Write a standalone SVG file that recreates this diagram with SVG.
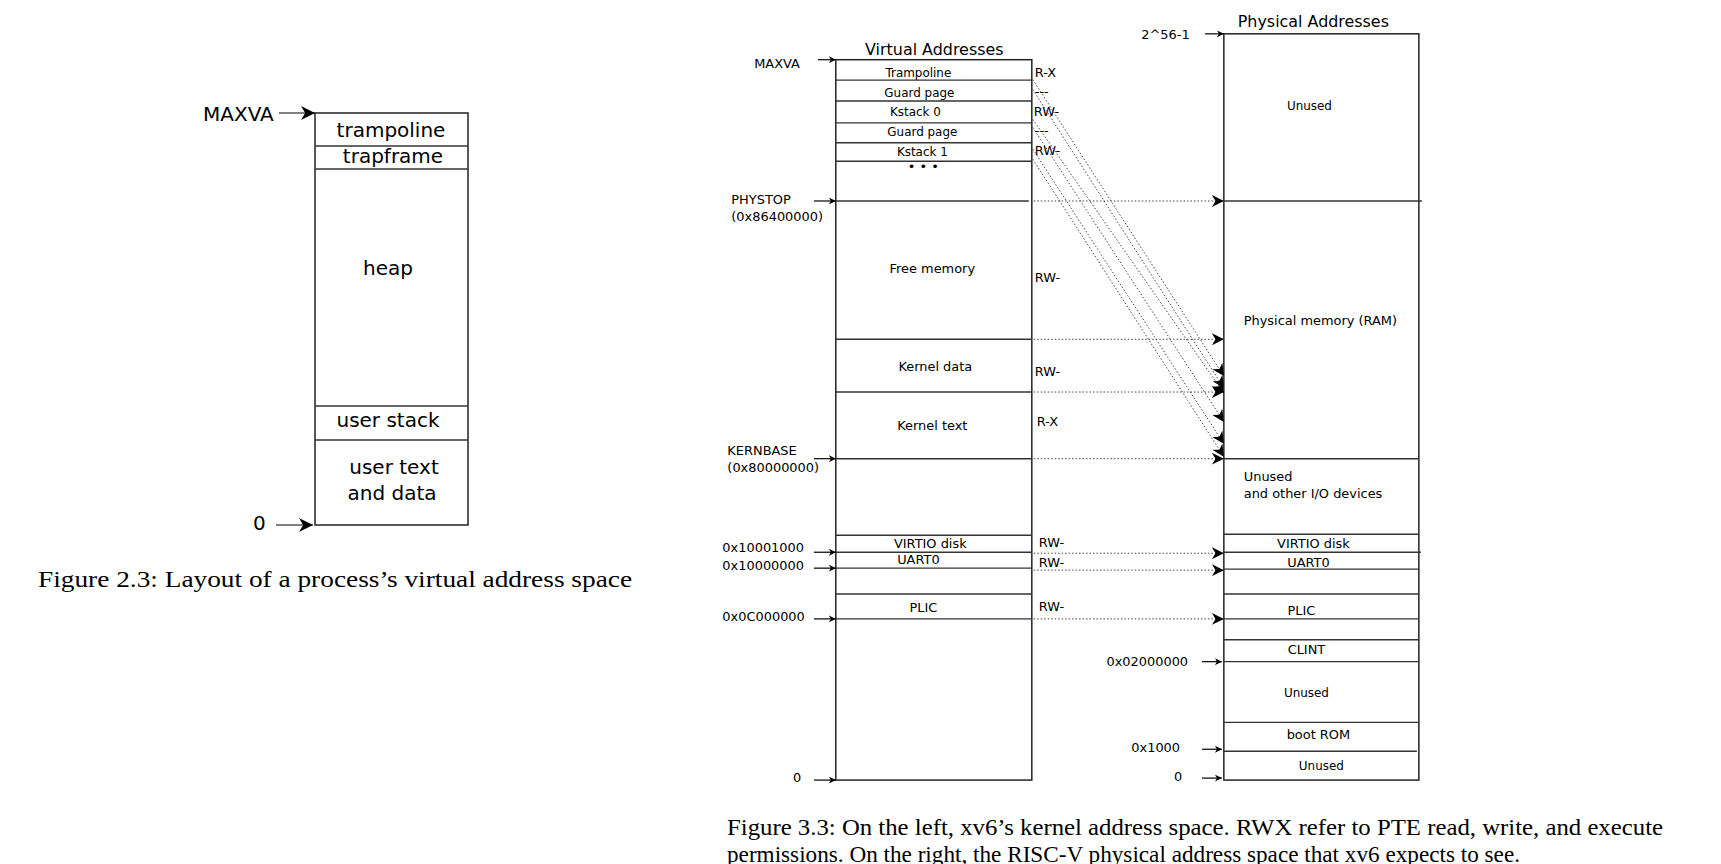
<svg xmlns="http://www.w3.org/2000/svg" width="1721" height="864" viewBox="0 0 1721 864">
<defs>
<marker id="ah" viewBox="0 0 10 10" refX="10" refY="5" markerWidth="7" markerHeight="7" orient="auto" markerUnits="userSpaceOnUse"><path d="M0,0 L10,5 L0,10 L3,5 z" fill="#000"/></marker>
<marker id="ah2" viewBox="0 0 10 10" refX="10" refY="5" markerWidth="12" markerHeight="12" orient="auto" markerUnits="userSpaceOnUse"><path d="M0,0 L10,5 L0,10 L3,5 z" fill="#000"/></marker>
<marker id="ah3" viewBox="0 0 10 10" refX="10" refY="5" markerWidth="14" markerHeight="14" orient="auto" markerUnits="userSpaceOnUse"><path d="M0,0 L10,5 L0,10 L3,5 z" fill="#000"/></marker>
</defs>
<style>
.bx{fill:none;stroke:#222;stroke-width:1.5}
.ln{stroke:#333;stroke-width:1.4}
.t{font-family:"DejaVu Sans",sans-serif;fill:#000}
.s{font-size:12px}
.m{font-size:13px}
.l{font-size:20px}
.h{font-size:16px}
.c{text-anchor:middle}
.cap{font-family:"Liberation Serif",serif;font-size:24px;fill:#000}
.ar{stroke:#000;stroke-width:1.2;fill:none}
.dt{stroke:#444;stroke-width:1;stroke-dasharray:1.5 2;fill:none}
</style>
<rect width="1721" height="864" fill="#fff"/>

<g id="fig23" transform="translate(-2,0)">
<rect class="bx" x="317" y="113" width="153" height="412"/>
<line class="ln" x1="317" y1="146" x2="470" y2="146"/>
<line class="ln" x1="317" y1="169" x2="470" y2="169"/>
<line class="ln" x1="317" y1="406" x2="470" y2="406"/>
<line class="ln" x1="317" y1="440" x2="470" y2="440"/>
<text class="t l c" x="393" y="137">trampoline</text>
<text class="t l c" x="395" y="163">trapframe</text>
<text class="t l c" x="390" y="275">heap</text>
<text class="t l c" x="390" y="427">user stack</text>
<text class="t l c" x="396" y="474">user text</text>
<text class="t l c" x="394" y="500">and data</text>
<text class="t l" x="205" y="121">MAXVA</text>
<text class="t l" x="255" y="530">0</text>
<line class="ar" x1="281" y1="113" x2="317" y2="113" marker-end="url(#ah3)"/>
<line class="ar" x1="278" y1="525" x2="315" y2="525" marker-end="url(#ah3)"/>
</g>
<text id="cap23" class="cap" x="38" y="587" textLength="594" lengthAdjust="spacingAndGlyphs">Figure 2.3: Layout of a process’s virtual address space</text>

<g transform="scale(0.995)">
<g id="virtual">
<text class="t h c" x="939" y="55">Virtual Addresses</text>
<rect class="bx" x="840" y="60" width="197" height="724"/>
<line class="ln" x1="840" y1="80.5" x2="1037" y2="80.5"/>
<line class="ln" x1="840" y1="101.5" x2="1037" y2="101.5"/>
<line class="ln" x1="840" y1="123.5" x2="1037" y2="123.5"/>
<line class="ln" x1="840" y1="143.5" x2="1037" y2="143.5"/>
<line class="ln" x1="840" y1="162" x2="1037" y2="162"/>
<line class="ln" x1="840" y1="202" x2="1034" y2="202"/>
<line class="ln" x1="840" y1="341" x2="1037" y2="341"/>
<line class="ln" x1="840" y1="394" x2="1037" y2="394"/>
<line class="ln" x1="840" y1="461" x2="1037" y2="461"/>
<line class="ln" x1="840" y1="538" x2="1037" y2="538"/>
<line class="ln" x1="840" y1="555" x2="1037" y2="555"/>
<line class="ln" x1="840" y1="571" x2="1037" y2="571"/>
<line class="ln" x1="840" y1="597" x2="1037" y2="597"/>
<line class="ln" x1="840" y1="622" x2="1037" y2="622"/>
<text class="t s c" x="923" y="77">Trampoline</text>
<text class="t s c" x="924" y="97">Guard page</text>
<text class="t s c" x="920" y="117">Kstack 0</text>
<text class="t s c" x="927" y="137">Guard page</text>
<text class="t s c" x="927" y="157">Kstack 1</text>
<text class="t m c" x="928" y="172">• • •</text>
<text class="t m c" x="937" y="274">Free memory</text>
<text class="t m c" x="940" y="373">Kernel data</text>
<text class="t m c" x="937" y="432">Kernel text</text>
<text class="t m c" x="935" y="551">VIRTIO disk</text>
<text class="t m c" x="923" y="567">UART0</text>
<text class="t m c" x="928" y="615">PLIC</text>
<g class="t m">
<text x="1040" y="77">R-X</text>
<text x="1040" y="96">---</text>
<text x="1039" y="117">RW-</text>
<text x="1040" y="136">---</text>
<text x="1040" y="156">RW-</text>
<text x="1040" y="283">RW-</text>
<text x="1040" y="378">RW-</text>
<text x="1042" y="428">R-X</text>
<text x="1044" y="550">RW-</text>
<text x="1044" y="570">RW-</text>
<text x="1044" y="614">RW-</text>
</g>
<g class="t m">
<text x="758" y="68">MAXVA</text>
<text x="735" y="205">PHYSTOP</text>
<text x="735" y="222">(0x86400000)</text>
<text x="731" y="457">KERNBASE</text>
<text x="731" y="474">(0x80000000)</text>
<text x="726" y="555">0x10001000</text>
<text x="726" y="573">0x10000000</text>
<text x="726" y="624">0x0C000000</text>
<text x="797" y="786">0</text>
</g>
</g>

<g id="physical">
<text class="t h" x="1244" y="27">Physical Addresses</text>
<rect class="bx" x="1230" y="34" width="196" height="750"/>
<line class="ln" x1="1230" y1="202" x2="1429" y2="202"/>
<line class="ln" x1="1230" y1="461" x2="1426" y2="461"/>
<line class="ln" x1="1230" y1="537" x2="1426" y2="537"/>
<line class="ln" x1="1230" y1="555" x2="1428" y2="555" stroke-width="2"/>
<line class="ln" x1="1230" y1="572" x2="1426" y2="572"/>
<line class="ln" x1="1230" y1="597" x2="1426" y2="597"/>
<line class="ln" x1="1230" y1="622" x2="1426" y2="622"/>
<line class="ln" x1="1230" y1="643" x2="1426" y2="643"/>
<line class="ln" x1="1230" y1="665" x2="1426" y2="665"/>
<line class="ln" x1="1230" y1="726" x2="1426" y2="726"/>
<line class="ln" x1="1230" y1="755" x2="1424" y2="755"/>
<text class="t s c" x="1316" y="111">Unused</text>
<text class="t m c" x="1327" y="327">Physical memory (RAM)</text>
<text class="t m" x="1250" y="483">Unused</text>
<text class="t m" x="1250" y="500">and other I/O devices</text>
<text class="t m c" x="1320" y="551">VIRTIO disk</text>
<text class="t m c" x="1315" y="570">UART0</text>
<text class="t m c" x="1308" y="618">PLIC</text>
<text class="t m c" x="1313" y="657">CLINT</text>
<text class="t s c" x="1313" y="701">Unused</text>
<text class="t m c" x="1325" y="743">boot ROM</text>
<text class="t s c" x="1328" y="774">Unused</text>
<g class="t m">
<text x="1147" y="39">2^56-1</text>
<text x="1112" y="669">0x02000000</text>
<text x="1137" y="756">0x1000</text>
<text x="1180" y="785">0</text>
</g>
</g>

<g id="connectors">
<line class="ar" x1="822" y1="60" x2="840" y2="60" marker-end="url(#ah)"/>
<line class="ar" x1="818" y1="202" x2="840" y2="202" marker-end="url(#ah)"/>
<line class="ar" x1="818" y1="461" x2="840" y2="461" marker-end="url(#ah)"/>
<line class="ar" x1="818" y1="555" x2="840" y2="555" marker-end="url(#ah)"/>
<line class="ar" x1="818" y1="571" x2="840" y2="571" marker-end="url(#ah)"/>
<line class="ar" x1="818" y1="622" x2="840" y2="622" marker-end="url(#ah)"/>
<line class="ar" x1="818" y1="784" x2="840" y2="784" marker-end="url(#ah)"/>
<line class="ar" x1="1211" y1="34" x2="1230" y2="34" marker-end="url(#ah)"/>
<line class="ar" x1="1208" y1="665" x2="1228" y2="665" marker-end="url(#ah)"/>
<line class="ar" x1="1208" y1="753" x2="1228" y2="753" marker-end="url(#ah)"/>
<line class="ar" x1="1208" y1="782" x2="1228" y2="782" marker-end="url(#ah)"/>
<line class="dt" x1="1039" y1="202" x2="1230" y2="202" marker-end="url(#ah2)"/>
<line class="dt" x1="1039" y1="341" x2="1230" y2="341" marker-end="url(#ah2)"/>
<line class="dt" x1="1039" y1="394" x2="1230" y2="394" marker-end="url(#ah2)"/>
<line class="dt" x1="1039" y1="461" x2="1230" y2="461" marker-end="url(#ah2)"/>
<line class="dt" x1="1039" y1="556" x2="1230" y2="556" marker-end="url(#ah2)"/>
<line class="dt" x1="1039" y1="573" x2="1230" y2="573" marker-end="url(#ah2)"/>
<line class="dt" x1="1039" y1="622" x2="1230" y2="622" marker-end="url(#ah2)"/>
<line class="dt" x1="1038" y1="80" x2="1230" y2="378" marker-end="url(#ah2)"/>
<line class="dt" x1="1038" y1="90" x2="1230" y2="390" marker-end="url(#ah2)"/>
<line class="dt" x1="1038" y1="120" x2="1230" y2="395" marker-end="url(#ah2)"/>
<line class="dt" x1="1038" y1="128" x2="1230" y2="424" marker-end="url(#ah2)"/>
<line class="dt" x1="1038" y1="150" x2="1230" y2="446" marker-end="url(#ah2)"/>
<line class="dt" x1="1038" y1="160" x2="1230" y2="459" marker-end="url(#ah2)"/>
</g>
</g>

<g id="caption33">
<text class="cap" x="727" y="835" textLength="936" lengthAdjust="spacingAndGlyphs">Figure 3.3: On the left, xv6’s kernel address space. RWX refer to PTE read, write, and execute</text>
<text class="cap" x="727" y="862" textLength="793" lengthAdjust="spacingAndGlyphs">permissions. On the right, the RISC-V physical address space that xv6 expects to see.</text>
</g>
</svg>
